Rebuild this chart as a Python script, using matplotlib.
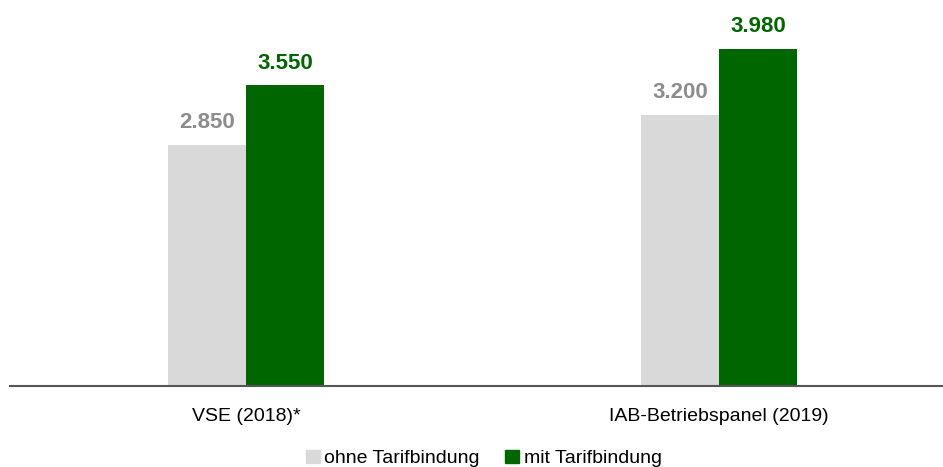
import numpy as np
import matplotlib.pyplot as plt
from matplotlib.patches import Patch

plt.rcParams['font.family'] = ['Liberation Sans Narrow', 'Liberation Sans', 'DejaVu Sans']

# Daten
kategorien = ["VSE (2018)*", "IAB-Betriebspanel (2019)"]
ohne_tarif = [2850, 3200]
mit_tarif = [3550, 3980]
serien = ["ohne Tarifbindung", "mit Tarifbindung"]

grau = "#d9d9d9"
gruen = "#006600"
grau_text = "#8c8c8c"

fig = plt.figure(figsize=(9.43, 4.67), dpi=100)
ax = fig.add_axes([10 / 943, 81 / 467, 933 / 943, 386 / 467])

x = np.arange(len(kategorien))
b = 0.165
ax.bar(x - b / 2, ohne_tarif, width=b, color=grau)
ax.bar(x + b / 2, mit_tarif, width=b, color=gruen)

def fmt(v):
    return f"{v:,}".replace(",", ".")

for xi, v in zip(x, ohne_tarif):
    ax.text(xi - b / 2, v + 140, fmt(v), ha="center", va="bottom",
            fontsize=16, fontweight="bold", color=grau_text)
for xi, v in zip(x, mit_tarif):
    ax.text(xi + b / 2, v + 140, fmt(v), ha="center", va="bottom",
            fontsize=16, fontweight="bold", color=gruen)

ax.set_xlim(-0.499, 1.474)
ax.set_ylim(0, 4559)
ax.set_xticks(x)
ax.set_xticklabels(kategorien, fontsize=14)
ax.tick_params(axis="x", length=0, pad=16)
ax.set_yticks([])
for s in ["top", "right", "left"]:
    ax.spines[s].set_visible(False)
ax.spines["bottom"].set_color("#555555")
ax.spines["bottom"].set_linewidth(1.5)

handles = [Patch(color=grau), Patch(color=gruen)]
fig.legend(handles, serien, loc="lower center", bbox_to_anchor=(0.513, -0.038),
           ncol=2, frameon=False, fontsize=14, handlelength=0.7, handleheight=0.7,
           handletextpad=0.25, columnspacing=1.3)

fig.savefig("out.png", dpi=100)
